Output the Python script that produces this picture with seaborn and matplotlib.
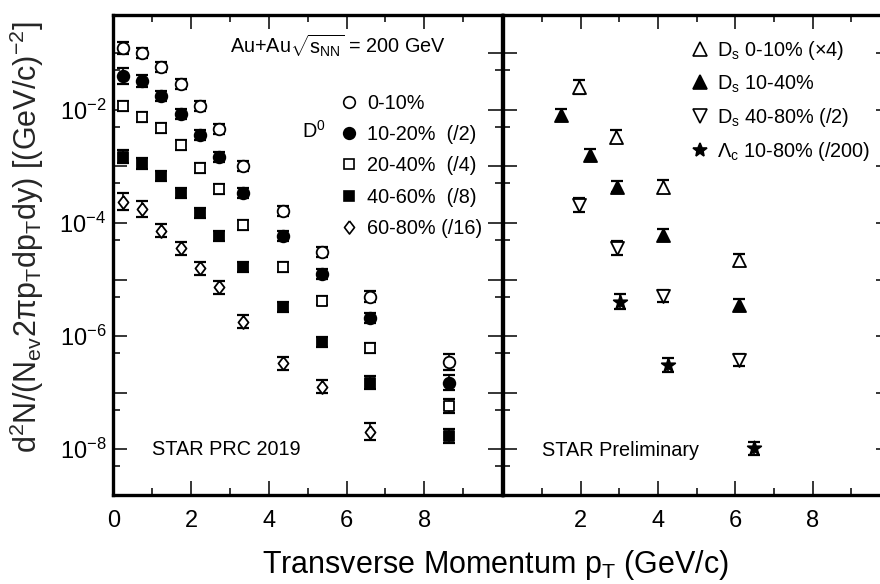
import numpy as np
import pandas as pd
import matplotlib
matplotlib.use("Agg")
import matplotlib.pyplot as plt
from matplotlib.lines import Line2D
from matplotlib.ticker import FixedLocator, FuncFormatter, NullFormatter
import seaborn as sns

# ---------------- D0 spectra, Au+Au 200 GeV (STAR PRC 2019) ----------------
d0_pt = [0.25, 0.74, 1.24, 1.73, 2.22, 2.71, 3.34, 4.37, 5.38, 6.6, 8.64]
d0_cent_0_10 = [0.1225, 0.100, 0.0580, 0.0286, 0.0117, 4.54e-3, 1.03e-3,
                1.65e-4, 3.11e-5, 4.98e-6, 3.53e-7]
d0_cent_10_20 = [0.0397, 0.0328, 0.0178, 8.45e-3, 3.60e-3, 1.45e-3, 3.35e-4,
                 5.97e-5, 1.26e-5, 2.07e-6, 1.50e-7]
d0_cent_20_40 = [0.0117, 7.39e-3, 4.72e-3, 2.39e-3, 9.27e-4, 3.94e-4, 9.23e-5,
                 1.69e-5, 4.24e-6, 6.25e-7, 5.82e-8]
d0_cent_40_60 = [1.49e-3, 1.14e-3, 6.86e-4, 3.43e-4, 1.49e-4, 5.97e-5, 1.65e-5,
                 3.24e-6, 7.95e-7, 1.50e-7, 1.72e-8]
d0_cent_60_80 = [2.38e-4, 1.75e-4, 7.31e-5, 3.57e-5, 1.58e-5, 7.24e-6, 1.80e-6,
                 3.31e-7, 1.28e-7, 2.05e-8]

# multiplicative uncertainty factors (bar spans y/f .. y*f)
d0_err_0_10 = [1.27, 1.22, 1.22, 1.22, 1.22, 1.22, 1.22, 1.22, 1.22, 1.25, 1.38]
d0_err_10_20 = [1.36, 1.27, 1.22, 1.22, 1.22, 1.22, 1.22, 1.22, 1.22, 1.22, 1.36]
d0_err_20_40 = [1.25, 1.22, 1.22, 1.22, 1.22, 1.22, 1.22, 1.22, 1.22, 1.22, 1.33]
d0_err_40_60 = [1.31, 1.25, 1.22, 1.22, 1.22, 1.22, 1.22, 1.22, 1.22, 1.30, 1.35]
d0_err_60_80 = [1.42, 1.40, 1.32, 1.30, 1.30, 1.30, 1.30, 1.30, 1.32, 1.42]

d0_labels = ["0-10%", "10-20%  (/2)", "20-40%  (/4)", "40-60%  (/8)", "60-80% (/16)"]

# ---------------- Ds and Lambda_c (STAR Preliminary) ----------------
ds_0_10_pt = [1.96, 2.91, 4.12, 6.10]
ds_0_10 = [0.0251, 3.36e-3, 4.39e-4, 2.22e-5]
ds_0_10_err = [1.33, 1.30, 1.30, 1.28]

ds_10_40_pt = [1.49, 2.25, 2.94, 4.12, 6.10]
ds_10_40 = [8.11e-3, 1.59e-3, 4.39e-4, 6.14e-5, 3.56e-6]
ds_10_40_err = [1.30, 1.30, 1.26, 1.30, 1.28]

ds_40_80_pt = [1.96, 2.94, 4.12, 6.10]
ds_40_80 = [2.08e-4, 3.57e-5, 5.13e-6, 3.78e-7]
ds_40_80_err = [1.33, 1.33, 1.28, 1.30]

lc_10_80_pt = [3.02, 4.25, 6.49]
lc_10_80 = [4.06e-6, 3.09e-7, 1.04e-8]
lc_10_80_err = [1.36, 1.31, 1.30]

right_labels = [r"D$_{\mathrm{s}}$ 0-10% (×4)", r"D$_{\mathrm{s}}$ 10-40%",
                r"D$_{\mathrm{s}}$ 40-80% (/2)", r"Λ$_{\mathrm{c}}$ 10-80% (/200)"]

# ---------------- style ----------------
sns.set_theme(style="ticks")
plt.rcParams.update({
    "font.family": ["Liberation Sans", "DejaVu Sans"],
    "mathtext.fontset": "custom",
    "mathtext.rm": "Liberation Sans",
    "mathtext.it": "Liberation Sans:italic",
    "mathtext.bf": "Liberation Sans:bold",
    "mathtext.default": "regular",
    "axes.linewidth": 2.4,
    "axes.edgecolor": "black",
    "text.color": "black",
    "xtick.color": "black",
    "ytick.color": "black",
})

W, H = 880, 584
fig = plt.figure(figsize=(W / 100, H / 100), dpi=100, facecolor="white")


def box(l, t, r, b):
    return [l / W, 1 - b / H, (r - l) / W, (b - t) / H]


axL = fig.add_axes(box(113.3, 15, 502.0, 494.7))
axR = fig.add_axes(box(503.3, 15, 890.0, 494.7), sharey=axL)

diamond = [(0, 1), (0.77, 0), (0, -1), (-0.77, 0), (0, 1)]

left_series = [
    (d0_cent_0_10, d0_err_0_10, "o", 70, "white"),
    (d0_cent_10_20, d0_err_10_20, "o", 70, "black"),
    (d0_cent_20_40, d0_err_20_40, "s", 52, "white"),
    (d0_cent_40_60, d0_err_40_60, "s", 52, "black"),
    (d0_cent_60_80, d0_err_60_80, diamond, 88, "white"),
]
right_series = [
    (ds_0_10_pt, ds_0_10, ds_0_10_err, "^", 88, "white"),
    (ds_10_40_pt, ds_10_40, ds_10_40_err, "^", 88, "black"),
    (ds_40_80_pt, ds_40_80, ds_40_80_err, "v", 88, "white"),
    (lc_10_80_pt, lc_10_80, lc_10_80_err, "*", 105, "black"),
]

err_kw = dict(fmt="none", ecolor="black", elinewidth=1.2, capsize=4.5,
              capthick=1.6, zorder=2)


def draw(ax, x, y, factor, marker, size, face):
    df = pd.DataFrame({"pt": x, "y": y, "f": factor})
    lo = df["y"] - df["y"] / df["f"]
    hi = df["y"] * df["f"] - df["y"]
    ax.errorbar(df["pt"], df["y"], yerr=[lo, hi], **err_kw)
    sns.scatterplot(data=df, x="pt", y="y", ax=ax, marker=marker, s=size,
                    color=face, edgecolor="black", linewidth=1.3, zorder=3,
                    legend=False)


axL.set_yscale("log")
for vals, fac, m, s, fc in left_series:
    draw(axL, d0_pt[:len(vals)], vals, fac, m, s, fc)
for x, vals, fac, m, s, fc in right_series:
    draw(axR, x, vals, fac, m, s, fc)

# ---------------- axes ----------------
for ax in (axL, axR):
    ax.set_xlim(0, 10)
    ax.set_xlabel("")
    ax.set_ylabel("")
    ax.set_xticks([1, 3, 5, 7, 9], minor=True)
    ax.tick_params(which="both", direction="in", top=True, right=True,
                   bottom=True, left=True, width=1.1, labelsize=17)
    ax.tick_params(which="major", length=10)
    ax.tick_params(which="minor", length=5)
    ax.tick_params(axis="x", which="major", pad=11)
    for sp in ax.spines.values():
        sp.set_linewidth(2.4)
        sp.set_color("black")

axL.set_xticks([0, 2, 4, 6, 8])
axR.set_xticks([2, 4, 6, 8])

axL.set_ylim(1.57e-9, 0.475)
axL.yaxis.set_major_locator(FixedLocator([10.0 ** k for k in range(-9, 1)]))
axL.yaxis.set_minor_locator(FixedLocator([5 * 10.0 ** k for k in range(-10, 0)]))


def decade_label(v, pos):
    e = int(round(np.log10(v)))
    return r"$\mathregular{10^{%d}}$" % e if e % 2 == 0 else ""


axL.yaxis.set_major_formatter(FuncFormatter(decade_label))
axL.yaxis.set_minor_formatter(NullFormatter())
axL.tick_params(axis="y", which="major", pad=5)
axR.tick_params(axis="y", labelleft=False)

axL.set_ylabel(r"d$^{2}$N/(N$_{\mathrm{ev}}$2$\pi$p$_{\mathrm{T}}$dp$_{\mathrm{T}}$dy) [(GeV/c)$^{-2}$]",
               fontsize=22)
axL.yaxis.set_label_coords((46 - 113.3) / 388.7, (494.7 - 237) / 479.7)
fig.supxlabel(r"Transverse Momentum p$_{\mathrm{T}}$ (GeV/c)", x=495 / W,
              y=1 - 573 / H, va="baseline", ha="center", fontsize=22)

# ---------------- annotations ----------------
fs = 14.3
txt = dict(fontsize=fs, color="black")
axL.text(0.300, 0.920, r"Au+Au$\sqrt{\mathrm{s}_{\mathrm{NN}}}$ = 200 GeV",
         transform=axL.transAxes, va="baseline", ha="left", **txt)
axL.text(0.485, 0.743, r"D$^{0}$", transform=axL.transAxes, va="baseline", ha="left", **txt)
axL.text(0.0988, 0.0828, "STAR PRC 2019", transform=axL.transAxes,
         va="baseline", ha="left", **txt)
axR.text(0.101, 0.0807, "STAR Preliminary", transform=axR.transAxes,
         va="baseline", ha="left", **txt)

# ---------------- legends ----------------
def handle(marker, size, face):
    return Line2D([], [], ls="none", marker=marker, ms=np.sqrt(size),
                  mfc=face, mec="black", mew=1.2)


left_handles = [handle(m, s, fc) for _, _, m, s, fc in left_series]
axL.legend(left_handles, d0_labels, loc="upper left", bbox_to_anchor=(0.582, 0.836),
           frameon=False, fontsize=fs, handlelength=1.0, handletextpad=0.38,
           labelspacing=0.62, borderpad=0, borderaxespad=0)

right_handles = [handle(m, s, fc) for _, _, _, m, s, fc in right_series]
axR.legend(right_handles, right_labels, loc="upper left", bbox_to_anchor=(0.482, 0.950),
           frameon=False, fontsize=fs, handlelength=1.0, handletextpad=0.38,
           labelspacing=0.57, borderpad=0, borderaxespad=0)

fig.savefig("out.png", dpi=100, facecolor="white")
